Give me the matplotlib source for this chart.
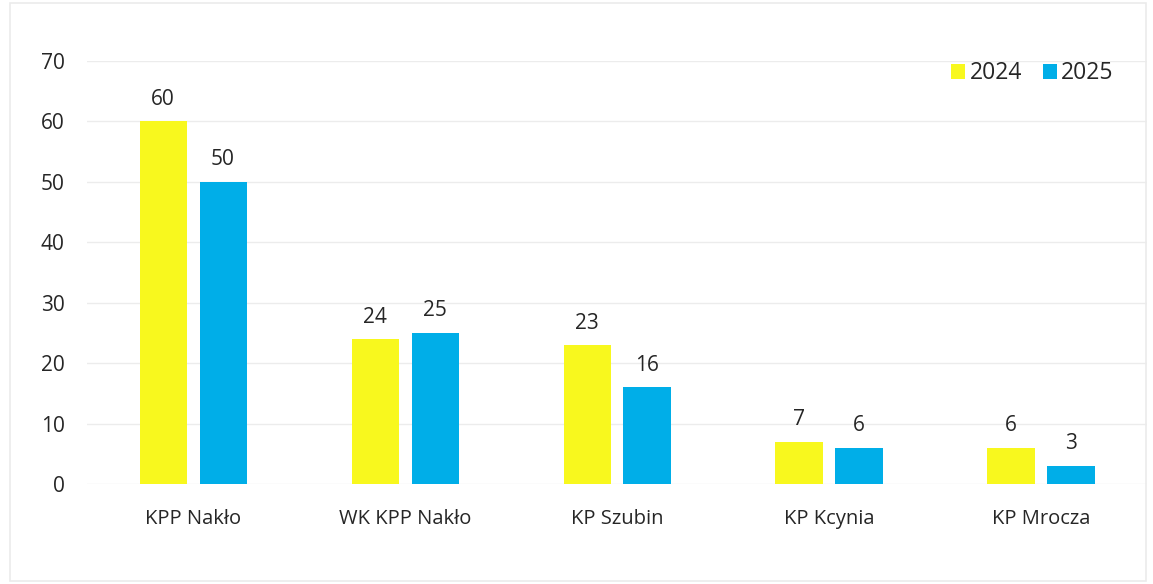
import matplotlib
matplotlib.use("Agg")
import matplotlib.pyplot as plt
import numpy as np
from matplotlib.patches import Rectangle

categories = ["KPP Nakło", "WK KPP Nakło", "KP Szubin", "KP Kcynia", "KP Mrocza"]
v2024 = [60, 24, 23, 7, 6]
v2025 = [50, 25, 16, 6, 3]
series_names = ["2024", "2025"]
yticks = [0, 10, 20, 30, 40, 50, 60, 70]

plt.rcParams['font.family'] = ['Open Sans', 'DejaVu Sans']
c24 = "#F8F81E"
c25 = "#00AEE8"
txt = "#262626"

fig = plt.figure(figsize=(11.53, 5.84), dpi=100)
ax = fig.add_axes([0.0755, 0.1712, 0.9193, 0.7243])

x = np.arange(len(categories))
w = 0.222
off = 0.1415
b1 = ax.bar(x - off, v2024, w, color=c24, label=series_names[0], zorder=3)
b2 = ax.bar(x + off, v2025, w, color=c25, label=series_names[1], zorder=3)
for bars, vals in ((b1, v2024), (b2, v2025)):
    for r, v in zip(bars, vals):
        ax.text(r.get_x() + r.get_width() / 2, v + 1.9, str(v), ha="center", va="bottom",
                fontsize=15, color=txt)

ax.set_xlim(-0.5, len(categories) - 0.5)
ax.set_ylim(0, 70)
ax.set_yticks(yticks)
ax.set_xticks(x)
ax.set_xticklabels(categories, fontsize=14.5, color=txt)
ax.tick_params(axis="y", labelsize=15, colors=txt, length=0, pad=16)
ax.tick_params(axis="x", length=0, pad=18)
ax.grid(axis="y", color="#ECECEC", linewidth=1, zorder=0)
for s in ax.spines.values():
    s.set_visible(False)

leg = ax.legend(loc="upper right", bbox_to_anchor=(0.988, 1.048), ncol=2, frameon=False,
                fontsize=16.5, handlelength=0.6, handleheight=0.6, handletextpad=0.2,
                columnspacing=0.9)
for t in leg.get_texts():
    t.set_color(txt)

fig.patches.append(Rectangle((0.009, 0.005), 0.985, 0.99, transform=fig.transFigure,
                             fill=False, edgecolor="#EBEBEB", linewidth=1.2))

fig.savefig("out.png", dpi=100)
